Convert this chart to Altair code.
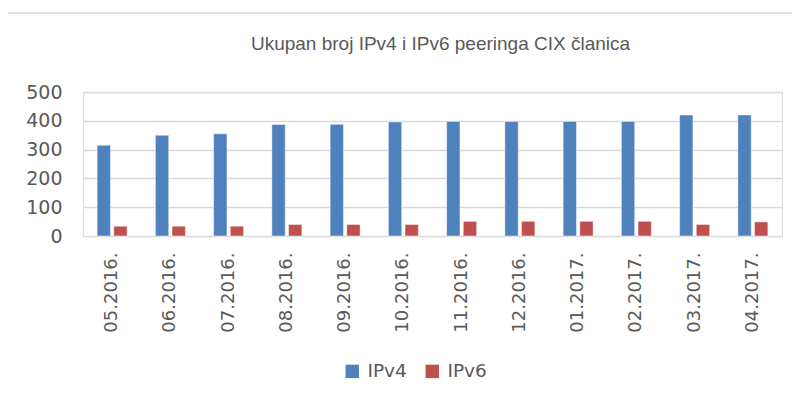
import altair as alt
import pandas as pd

months = ["05.2016.", "06.2016.", "07.2016.", "08.2016.", "09.2016.", "10.2016.",
          "11.2016.", "12.2016.", "01.2017.", "02.2017.", "03.2017.", "04.2017."]
ipv4 = [315, 350, 355, 387, 388, 396, 398, 398, 398, 398, 420, 420]
ipv6 = [34, 34, 34, 40, 40, 40, 51, 51, 51, 51, 40, 49]
series = ["IPv4", "IPv6"]
colors = ["#4F81BD", "#C0504D"]

rows = []
for m, a, b in zip(months, ipv4, ipv6):
    rows.append({"mjesec": m, "serija": "IPv4", "broj": a})
    rows.append({"mjesec": m, "serija": "IPv6", "broj": b})
df = pd.DataFrame(rows)

FONT = "DejaVu Sans"
TFONT = "Liberation Sans"
GREY = "#595959"

bars = alt.Chart(df).mark_bar(stroke="white", strokeOpacity=0.45, strokeWidth=1).encode(
    x=alt.X("mjesec:N", sort=months, title=None,
            scale=alt.Scale(paddingInner=0.485, paddingOuter=0.2425),
            axis=alt.Axis(labelAngle=-90, labelAlign="right", labelBaseline="middle",
                          labelPadding=16, ticks=False, domain=False, grid=False,
                          labelFontSize=18, labelColor=GREY, labelFont=FONT)),
    xOffset=alt.XOffset("serija:N", sort=series, scale=alt.Scale(paddingInner=0.2)),
    y=alt.Y("broj:Q", title=None,
            scale=alt.Scale(domain=[0, 500]),
            axis=alt.Axis(values=[0, 100, 200, 300, 400, 500], ticks=False, domain=False,
                          labelPadding=21, labelFontSize=19, labelColor=GREY, labelFont=FONT,
                          gridColor="#D9D9D9", gridWidth=1.5)),
    color=alt.Color("serija:N", sort=series,
                    scale=alt.Scale(domain=series, range=colors),
                    legend=alt.Legend(title=None, orient="none", direction="horizontal",
                                      legendX=260, legendY=270, symbolType="square",
                                      symbolSize=180, symbolStrokeWidth=0,
                                      labelFontSize=18.5, labelColor=GREY, labelFont=FONT,
                                      columnPadding=16, labelOffset=6)),
)

frame = alt.Chart(pd.DataFrame({"k": [0]})).mark_rect(
    filled=False, fill="transparent", stroke="#D9D9D9", strokeWidth=1.5
).encode(x=alt.value(-76), x2=alt.value(730), y=alt.value(-79), y2=alt.value(420))

chart = alt.layer(frame, bars).properties(
    width=699, height=144,
    padding={"left": 75, "top": 84, "right": 10, "bottom": 160},
    autosize=alt.AutoSizeParams(type="none"),
    title=alt.TitleParams("Ukupan broj IPv4 i IPv6 peeringa CIX članica",
                          anchor="middle", fontSize=19, fontWeight="normal",
                          color=GREY, font=TFONT, offset=-42, dx=8, frame="group"),
).configure_view(stroke=None, strokeWidth=0).configure(background="white")

chart.save("out.html", embed_options={"renderer": "svg", "actions": False})
